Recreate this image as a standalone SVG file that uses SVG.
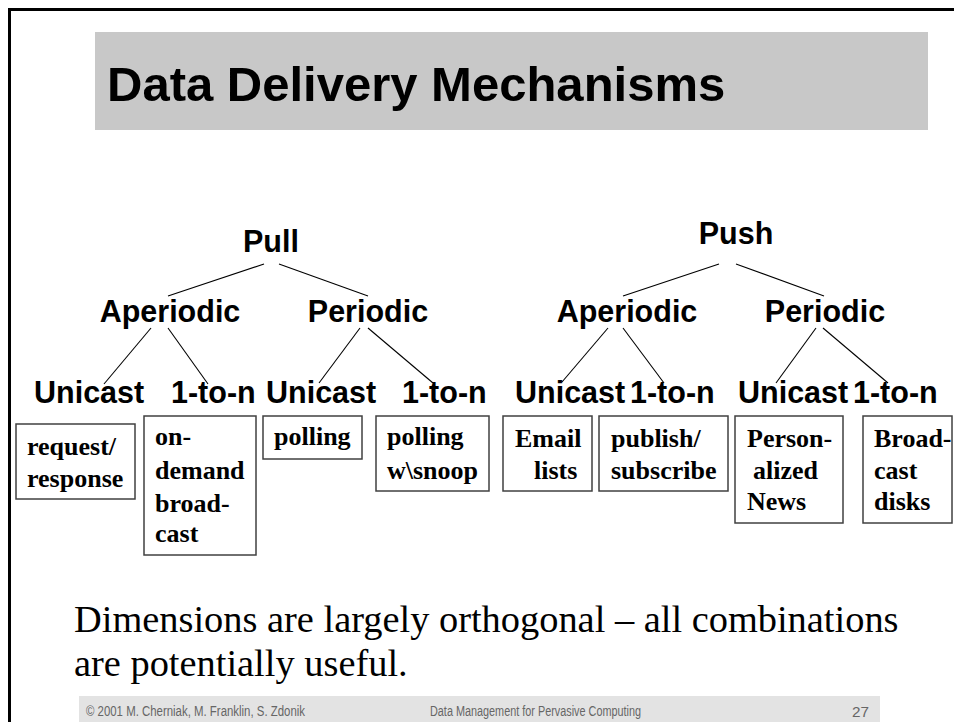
<svg xmlns="http://www.w3.org/2000/svg" width="954" height="722" viewBox="0 0 954 722">
<style>
.h{font-family:"Liberation Sans",Arial,sans-serif;font-weight:bold;fill:#000}
.t1{font-size:30.5px}
.bx rect{fill:#fff;stroke:#404040;stroke-width:1.5}
.bx text{font-family:"Liberation Serif","Times New Roman",serif;font-weight:bold;font-size:26px;fill:#000}
.body{font-family:"Liberation Serif","Times New Roman",serif;font-size:38.4px;fill:#000}
.ft{font-family:"Liberation Sans",Arial,sans-serif;font-size:14px;fill:#666}
#connectors line{stroke:#000;stroke-width:1.1}
</style>
<rect width="954" height="722" fill="#fff"/>
<rect x="9.5" y="9.5" width="960" height="730" fill="none" stroke="#000" stroke-width="3"/>
<rect x="95" y="32" width="833" height="98" fill="#c8c8c8"/>
<text class="h" x="107" y="101" font-size="49">Data Delivery Mechanisms</text>

<g id="connectors">
<line x1="264" y1="264" x2="168" y2="296"/>
<line x1="279" y1="264" x2="368" y2="296"/>
<line x1="151" y1="328" x2="104" y2="384"/>
<line x1="168" y1="328" x2="208" y2="384"/>
<line x1="360" y1="328" x2="319" y2="383"/>
<line x1="368" y1="328" x2="433" y2="383"/>
<line x1="719" y1="264" x2="623" y2="296"/>
<line x1="736" y1="264" x2="824" y2="296"/>
<line x1="608" y1="328" x2="562" y2="382"/>
<line x1="623" y1="328" x2="664" y2="383"/>
<line x1="816" y1="328" x2="776" y2="383"/>
<line x1="823" y1="328" x2="888" y2="383"/>
</g>

<g id="pull"><text class="h t1" x="271" y="252" text-anchor="middle">Pull</text></g>
<g id="push"><text class="h t1" x="736" y="244" text-anchor="middle">Push</text></g>
<g id="pull-aperiodic"><text class="h t1" x="170" y="322" text-anchor="middle">Aperiodic</text></g>
<g id="pull-periodic"><text class="h t1" x="368" y="322" text-anchor="middle">Periodic</text></g>
<g id="push-aperiodic"><text class="h t1" x="627" y="322" text-anchor="middle">Aperiodic</text></g>
<g id="push-periodic"><text class="h t1" x="825" y="322" text-anchor="middle">Periodic</text></g>

<g id="pull-a-unicast"><text class="h t1" x="34" y="403">Unicast</text></g>
<g id="pull-a-1ton"><text class="h t1" x="171" y="403">1-to-n</text></g>
<g id="pull-p-unicast"><text class="h t1" x="266" y="403">Unicast</text></g>
<g id="pull-p-1ton"><text class="h t1" x="402" y="403">1-to-n</text></g>
<g id="push-a-unicast"><text class="h t1" x="515" y="403">Unicast</text></g>
<g id="push-a-1ton"><text class="h t1" x="630" y="403">1-to-n</text></g>
<g id="push-p-unicast"><text class="h t1" x="738" y="403">Unicast</text></g>
<g id="push-p-1ton"><text class="h t1" x="853" y="403">1-to-n</text></g>

<g id="box-request" class="bx"><rect x="16" y="424" width="119" height="75"/><text x="27" y="455">request/</text><text x="27" y="487">response</text></g>
<g id="box-ondemand" class="bx"><rect x="144" y="416" width="112" height="139"/><text x="155" y="445">on-</text><text x="155" y="479">demand</text><text x="155" y="512">broad-</text><text x="155" y="542">cast</text></g>
<g id="box-polling" class="bx"><rect x="263" y="416" width="99" height="43"/><text x="274" y="445">polling</text></g>
<g id="box-snoop" class="bx"><rect x="376" y="416" width="113" height="75"/><text x="387" y="445">polling</text><text x="387" y="479">w\snoop</text></g>
<g id="box-email" class="bx"><rect x="503" y="416" width="89" height="75"/><text x="515" y="447">Email</text><text x="534" y="479">lists</text></g>
<g id="box-pubsub" class="bx"><rect x="599" y="416" width="129" height="75"/><text x="611" y="447">publish/</text><text x="611" y="479">subscribe</text></g>
<g id="box-news" class="bx"><rect x="735" y="416" width="108" height="107"/><text x="747" y="447">Person-</text><text x="753" y="479">alized</text><text x="747" y="510">News</text></g>
<g id="box-disks" class="bx"><rect x="863" y="416" width="89" height="107"/><text x="874" y="447">Broad-</text><text x="874" y="479">cast</text><text x="874" y="510">disks</text></g>

<text class="body" x="74" y="632">Dimensions are largely orthogonal – all combinations</text>
<text class="body" x="74" y="676">are potentially useful.</text>

<rect x="79" y="696" width="801" height="30" fill="#e3e3e3"/>
<text class="ft" x="86" y="716" textLength="219" lengthAdjust="spacingAndGlyphs">© 2001 M. Cherniak, M. Franklin, S. Zdonik</text>
<text class="ft" x="430" y="716" textLength="211" lengthAdjust="spacingAndGlyphs">Data Management for Pervasive Computing</text>
<text class="ft" x="852" y="717" font-size="17" fill="#222" textLength="17" lengthAdjust="spacingAndGlyphs">27</text>
</svg>
